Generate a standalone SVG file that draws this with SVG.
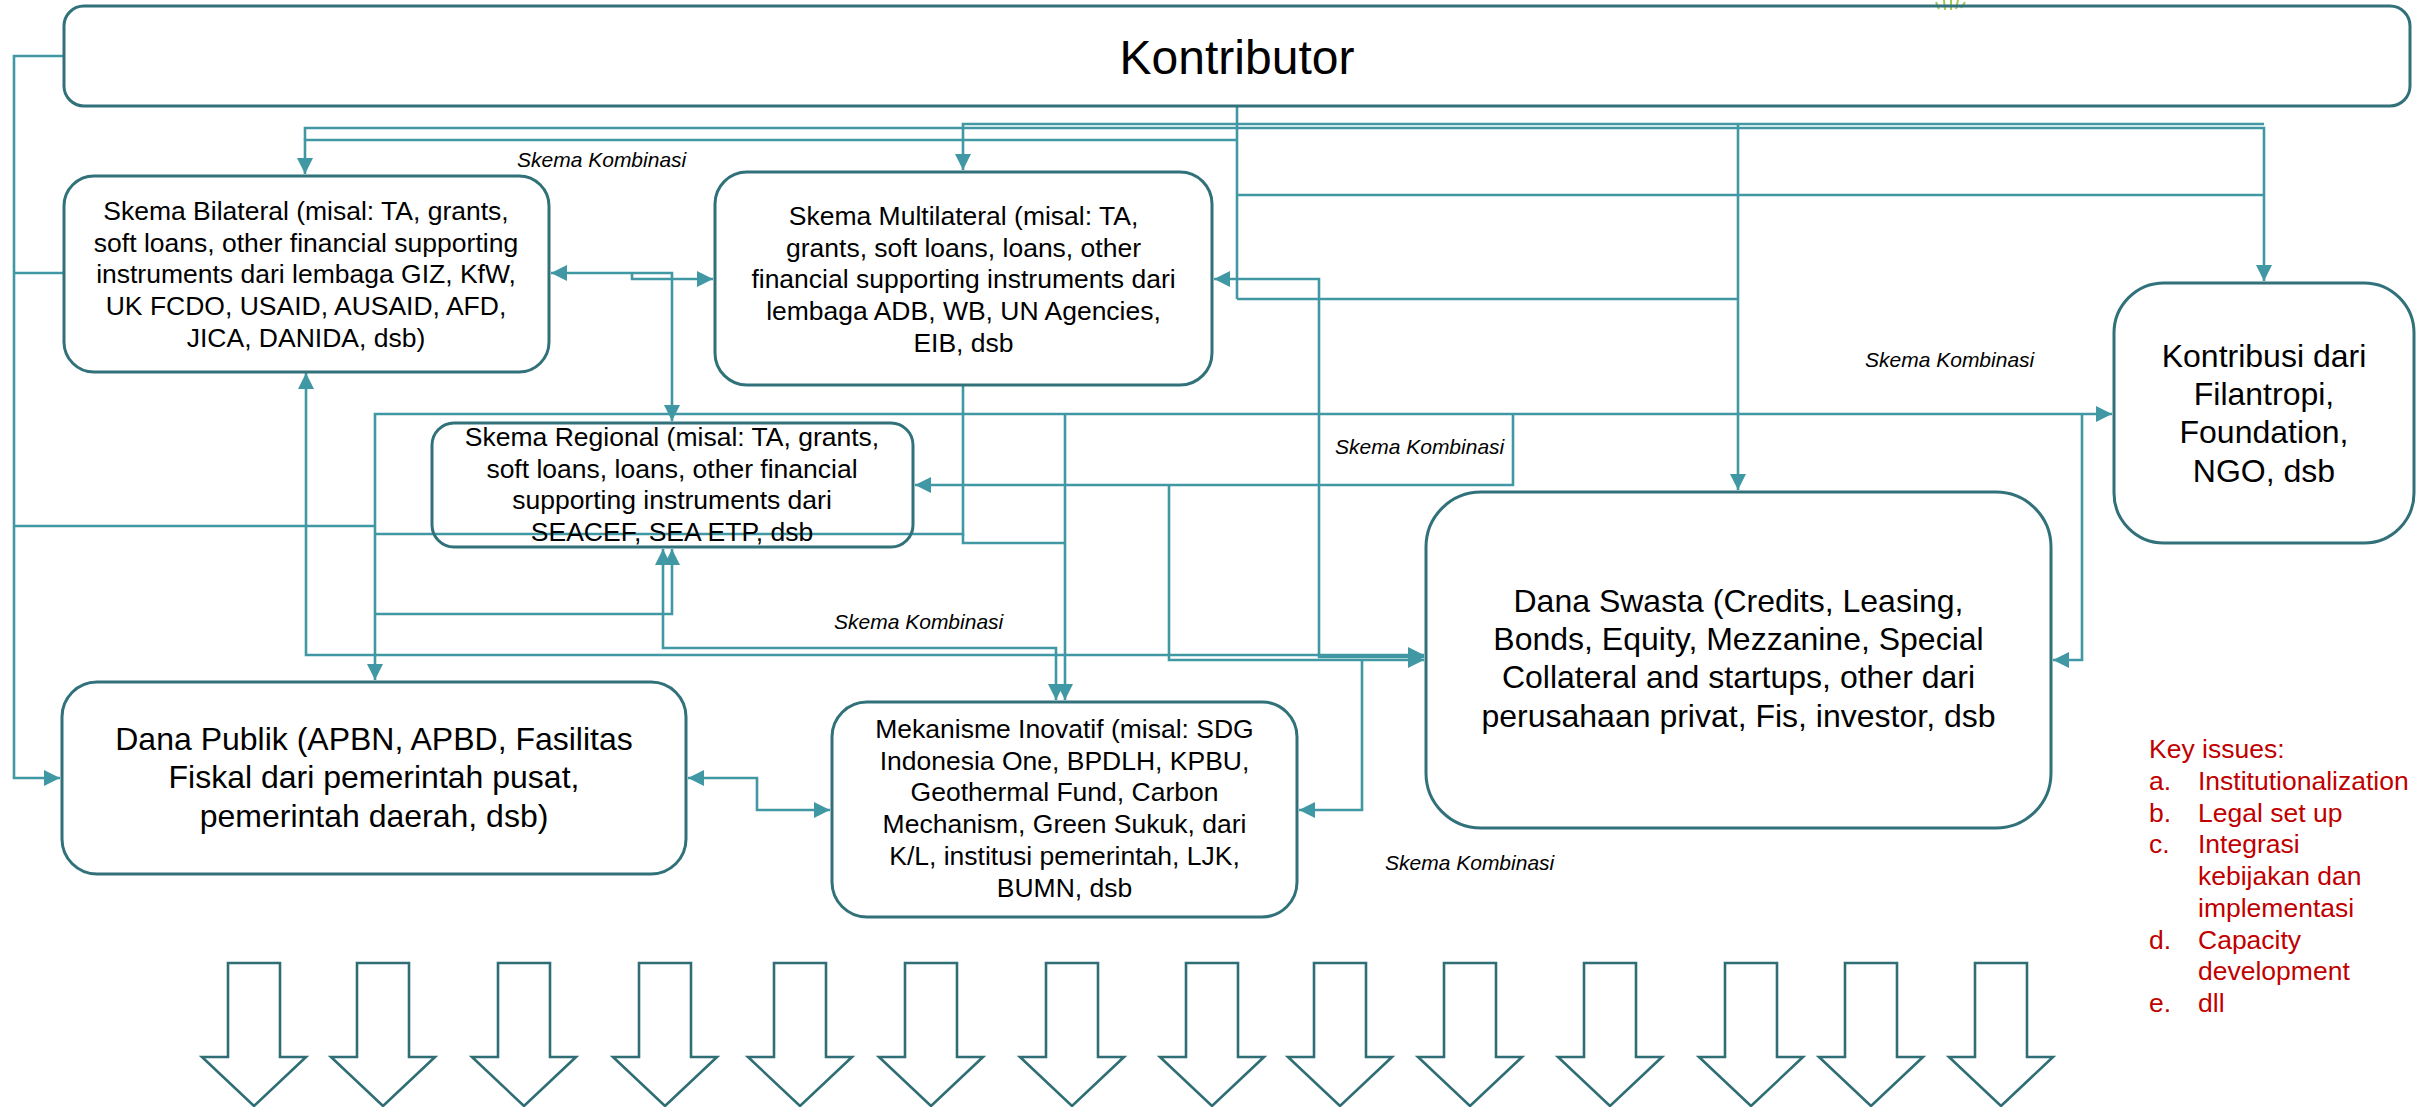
<svg xmlns="http://www.w3.org/2000/svg" width="2420" height="1107" viewBox="0 0 2420 1107">
<style>
.box{fill:none;stroke:#31717A;stroke-width:3}
.t{font-family:"Liberation Sans",Arial,sans-serif;fill:#000;text-anchor:middle}
.s{font-size:26.5px}
.l{font-size:32px}
.c{fill:none;stroke:#4098A4;stroke-width:2.6}
.lbl{font-family:"Liberation Sans",Arial,sans-serif;font-style:italic;font-size:21px;fill:#000}
.ki{font-family:"Liberation Sans",Arial,sans-serif;font-size:26.5px;fill:#C00000}
.big{fill:#fff;stroke:#2F6E75;stroke-width:2.6;stroke-linejoin:miter}
</style>
<defs>
<marker id="ah" viewBox="0 0 10 10" refX="10" refY="5" markerWidth="16" markerHeight="16" markerUnits="userSpaceOnUse" orient="auto-start-reverse">
<path d="M0,0 L10,5 L0,10 z" fill="#4098A4"/>
</marker>
<path id="darr" d="M-26,0 H26 V94 H52 L0,143 L-52,94 H-26 Z"/>
</defs>
<rect x="0" y="0" width="2420" height="1107" fill="#fff"/>

<g id="logo-fragment" stroke="#9CCB5A" stroke-width="2" fill="none">
<path d="M1936,2 L1939,9"/><path d="M1944,0 L1945,10"/><path d="M1951,0 L1951,10"/><path d="M1958,0 L1956,9"/><path d="M1965,2 L1961,8"/>
</g>

<g id="connectors">
<path class="c" d="M64,56 H14 V778 H60" marker-end="url(#ah)"/>
<path class="c" d="M14,273 H64"/>
<path class="c" d="M14,526 H375"/>
<path class="c" d="M1237,106 V299"/>
<path class="c" d="M1237,140 H305 V174" marker-end="url(#ah)"/>
<path class="c" d="M305,140 V128 H2264 V281" marker-end="url(#ah)"/>
<path class="c" d="M2264,124 H963 V170" marker-end="url(#ah)"/>
<path class="c" d="M1237,195 H2264"/>
<path class="c" d="M1237,299 H1738"/>
<path class="c" d="M1738,124 V490" marker-end="url(#ah)"/>
<path class="c" d="M551,273 H672 V421" marker-start="url(#ah)" marker-end="url(#ah)"/>
<path class="c" d="M632,273 V279 H713" marker-end="url(#ah)"/>
<path class="c" d="M1214,279 H1319 V657 H1424" marker-start="url(#ah)" marker-end="url(#ah)"/>
<path class="c" d="M375,680 V414 H2112" marker-start="url(#ah)" marker-end="url(#ah)"/>
<path class="c" d="M1065,414 V700" marker-end="url(#ah)"/>
<path class="c" d="M1513,414 V485 H915" marker-end="url(#ah)"/>
<path class="c" d="M1169,485 V660 H1424" marker-end="url(#ah)"/>
<path class="c" d="M2082,414 V660 H2053" marker-end="url(#ah)"/>
<path class="c" d="M963,385 V534 H375"/>
<path class="c" d="M963,534 V543 H1065"/>
<path class="c" d="M375,614 H672 V549" marker-end="url(#ah)"/>
<path class="c" d="M663,549 V648 H1056 V700" marker-start="url(#ah)" marker-end="url(#ah)"/>
<path class="c" d="M306,373 V655 H1424" marker-start="url(#ah)" marker-end="url(#ah)"/>
<path class="c" d="M1362,660 V810 H1299" marker-end="url(#ah)"/>
<path class="c" d="M688,778 H757 V810 H830" marker-start="url(#ah)" marker-end="url(#ah)"/>
</g>

<g id="labels">
<text class="lbl" x="517" y="167">Skema Kombinasi</text>
<text class="lbl" x="1865" y="367">Skema Kombinasi</text>
<text class="lbl" x="1335" y="454">Skema Kombinasi</text>
<text class="lbl" x="834" y="629">Skema Kombinasi</text>
<text class="lbl" x="1385" y="870">Skema Kombinasi</text>
</g>

<g id="kontributor">
<rect class="box" x="64" y="6" width="2346" height="100" rx="20"/>
<text class="t" x="1237" y="74" font-size="48">Kontributor</text>
</g>

<g id="bilateral">
<rect class="box" x="64" y="176" width="485" height="196" rx="30"/>
<text class="t s"><tspan x="306" y="220">Skema Bilateral (misal: TA, grants,</tspan><tspan x="306" y="251.7">soft loans, other financial supporting</tspan><tspan x="306" y="283.4">instruments dari lembaga GIZ, KfW,</tspan><tspan x="306" y="315.1">UK FCDO, USAID, AUSAID, AFD,</tspan><tspan x="306" y="346.8">JICA, DANIDA, dsb)</tspan></text>
</g>

<g id="multilateral">
<rect class="box" x="715" y="172" width="497" height="213" rx="32"/>
<text class="t s"><tspan x="963.5" y="225">Skema Multilateral (misal: TA,</tspan><tspan x="963.5" y="256.7">grants, soft loans, loans, other</tspan><tspan x="963.5" y="288.4">financial supporting instruments dari</tspan><tspan x="963.5" y="320.1">lembaga ADB, WB, UN Agencies,</tspan><tspan x="963.5" y="351.8">EIB, dsb</tspan></text>
</g>

<g id="regional">
<rect class="box" x="432" y="423" width="481" height="124" rx="22"/>
<text class="t s"><tspan x="672" y="446">Skema Regional (misal: TA, grants,</tspan><tspan x="672" y="477.7">soft loans, loans, other financial</tspan><tspan x="672" y="509.4">supporting instruments dari</tspan><tspan x="672" y="541.1">SEACEF, SEA ETP, dsb</tspan></text>
</g>

<g id="filantropi">
<rect class="box" x="2114" y="283" width="300" height="260" rx="50"/>
<text class="t l"><tspan x="2264" y="366.7">Kontribusi dari</tspan><tspan x="2264" y="405">Filantropi,</tspan><tspan x="2264" y="443.3">Foundation,</tspan><tspan x="2264" y="481.6">NGO, dsb</tspan></text>
</g>

<g id="swasta">
<rect class="box" x="1426" y="492" width="625" height="336" rx="55"/>
<text class="t l"><tspan x="1738.5" y="611.7">Dana Swasta (Credits, Leasing,</tspan><tspan x="1738.5" y="650">Bonds, Equity, Mezzanine, Special</tspan><tspan x="1738.5" y="688.3">Collateral and startups, other dari</tspan><tspan x="1738.5" y="726.6">perusahaan privat, Fis, investor, dsb</tspan></text>
</g>

<g id="publik">
<rect class="box" x="62" y="682" width="624" height="192" rx="35"/>
<text class="t l"><tspan x="374" y="750">Dana Publik (APBN, APBD, Fasilitas</tspan><tspan x="374" y="788.3">Fiskal dari pemerintah pusat,</tspan><tspan x="374" y="826.6">pemerintah daerah, dsb)</tspan></text>
</g>

<g id="inovatif">
<rect class="box" x="832" y="702" width="465" height="215" rx="35"/>
<text class="t s"><tspan x="1064.5" y="738">Mekanisme Inovatif (misal: SDG</tspan><tspan x="1064.5" y="769.7">Indonesia One, BPDLH, KPBU,</tspan><tspan x="1064.5" y="801.4">Geothermal Fund, Carbon</tspan><tspan x="1064.5" y="833.1">Mechanism, Green Sukuk, dari</tspan><tspan x="1064.5" y="864.8">K/L, institusi pemerintah, LJK,</tspan><tspan x="1064.5" y="896.5">BUMN, dsb</tspan></text>
</g>

<g id="key-issues">
<text class="ki" x="2149" y="758">Key issues:</text>
<text class="ki" x="2149" y="790">a.</text><text class="ki" x="2198" y="790">Institutionalization</text>
<text class="ki" x="2149" y="821.7">b.</text><text class="ki" x="2198" y="821.7">Legal set up</text>
<text class="ki" x="2149" y="853.4">c.</text><text class="ki" x="2198" y="853.4">Integrasi</text>
<text class="ki" x="2198" y="885.1">kebijakan dan</text>
<text class="ki" x="2198" y="916.8">implementasi</text>
<text class="ki" x="2149" y="948.5">d.</text><text class="ki" x="2198" y="948.5">Capacity</text>
<text class="ki" x="2198" y="980.2">development</text>
<text class="ki" x="2149" y="1011.9">e.</text><text class="ki" x="2198" y="1011.9">dll</text>
</g>

<g id="bottom-arrows">
<use href="#darr" class="big" x="254" y="963"/>
<use href="#darr" class="big" x="383" y="963"/>
<use href="#darr" class="big" x="524" y="963"/>
<use href="#darr" class="big" x="665" y="963"/>
<use href="#darr" class="big" x="800" y="963"/>
<use href="#darr" class="big" x="931" y="963"/>
<use href="#darr" class="big" x="1072" y="963"/>
<use href="#darr" class="big" x="1212" y="963"/>
<use href="#darr" class="big" x="1340" y="963"/>
<use href="#darr" class="big" x="1470" y="963"/>
<use href="#darr" class="big" x="1610" y="963"/>
<use href="#darr" class="big" x="1751" y="963"/>
<use href="#darr" class="big" x="1871" y="963"/>
<use href="#darr" class="big" x="2001" y="963"/>
</g>
</svg>
